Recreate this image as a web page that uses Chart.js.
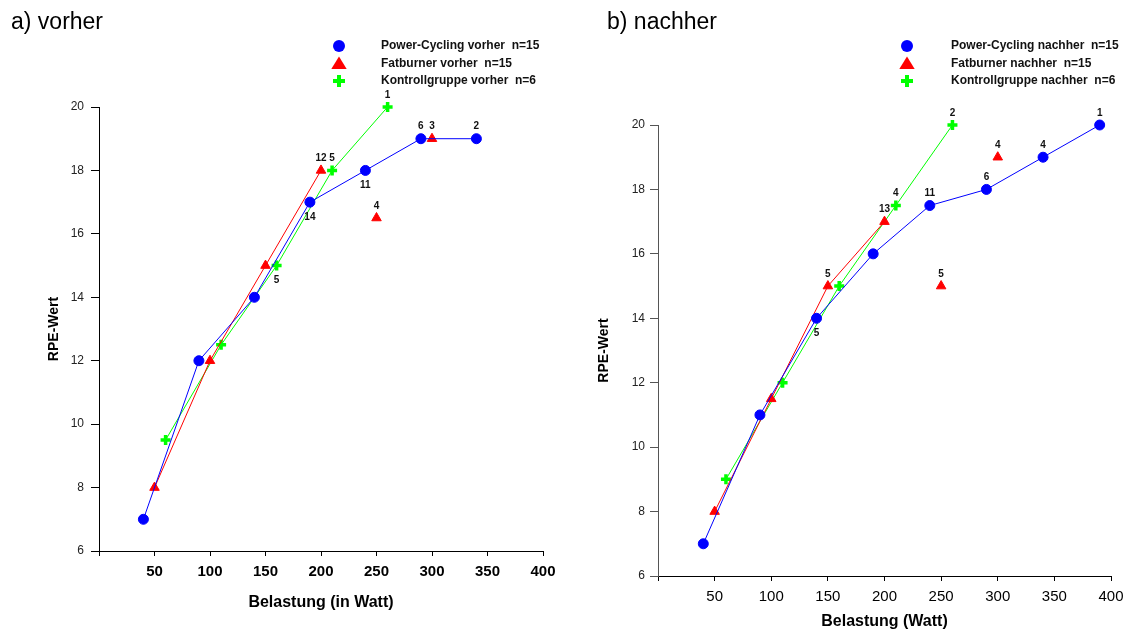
<!DOCTYPE html>
<html>
<head>
<meta charset="utf-8">
<title>RPE-Wert vorher / nachher</title>
<script src="https://cdn.jsdelivr.net/npm/chart.js"></script>
<style>
  html, body { margin: 0; padding: 0; background: #fff; }
  #wrap { position: relative; width: 1147px; height: 631px; }
  .box { position: absolute; top: 0; height: 631px; }
</style>
</head>
<body>
<div id="wrap">
  <div class="box" style="left:0;width:574px"><canvas id="vorher"></canvas></div>
  <div class="box" style="left:574px;width:573px"><canvas id="nachher"></canvas></div>
</div>
<script>
// ---- data: a) vorher ----
const pcVorherX = [40, 90, 140, 190, 240, 290, 340];
const pcVorherY = [7, 12, 14, 17, 18, 19, 19];
const pcVorherN = ['', '', '', '14', '11', '6', '2'];

const fbVorherX = [50, 100, 150, 200];
const fbVorherY = [8, 12, 15, 18];
const fbVorherN = ['', '', '', '12'];
const fbVorherSoloX = [250, 300];
const fbVorherSoloY = [16.5, 19];
const fbVorherSoloN = ['4', '3'];

const kgVorherX = [60, 110, 160, 210, 260];
const kgVorherY = [9.5, 12.5, 15, 18, 20];
const kgVorherN = ['', '', '5', '5', '1'];

// ---- data: b) nachher ----
const pcNachherX = [40, 90, 140, 190, 240, 290, 340, 390];
const pcNachherY = [7, 11, 14, 16, 17.5, 18, 19, 20];
const pcNachherN = ['', '', '5', '', '11', '6', '4', '1'];

const fbNachherX = [50, 100, 150, 200];
const fbNachherY = [8, 11.5, 15, 17];
const fbNachherN = ['', '', '5', '13'];
const fbNachherSoloX = [250, 300];
const fbNachherSoloY = [15, 19];
const fbNachherSoloN = ['5', '4'];

const kgNachherX = [60, 110, 160, 210, 260];
const kgNachherY = [9, 12, 15, 17.5, 20];
const kgNachherN = ['', '', '', '4', '2'];

// axes
const xMin = 0, xMax = 400, xStep = 50;
const yMin = 6, yMax = 20, yStep = 2;

const legendVorher = ['Power-Cycling vorher  n=15', 'Fatburner vorher  n=15', 'Kontrollgruppe vorher  n=6'];
const legendNachher = ['Power-Cycling nachher  n=15', 'Fatburner nachher  n=15', 'Kontrollgruppe nachher  n=6'];

const FONT = 'Arial, "Liberation Sans", sans-serif';
const BLUE = '#0000ff', RED = '#ff0000', GREEN = '#00ff00';

const pts = (xs, ys) => xs.map((x, i) => ({ x: x, y: ys[i] }));

function series(xs, ys, nums, color, style, extra) {
    return Object.assign({
        data: pts(xs, ys),
        numbers: nums,
        showLine: true,
        borderColor: color,
        backgroundColor: color,
        borderWidth: 1,
        pointStyle: style,
        pointRadius: style === 'triangle' ? 5.5 : 5,
        pointBorderWidth: style === 'cross' ? 3.5 : 1,
        pointHoverRadius: 5,
        clip: false
    }, extra || {});
}

function marker(ctx, style, color, x, y, r) {
    ctx.fillStyle = color;
    ctx.strokeStyle = color;
    ctx.beginPath();
    if (style === 'circle') {
        ctx.arc(x, y, r, 0, Math.PI * 2);
        ctx.fill();
    } else if (style === 'triangle') {
        ctx.moveTo(x, y - r);
        ctx.lineTo(x + r * 1.1, y + r * 0.8);
        ctx.lineTo(x - r * 1.1, y + r * 0.8);
        ctx.closePath();
        ctx.fill();
    } else {
        ctx.lineWidth = 4;
        ctx.moveTo(x - r, y); ctx.lineTo(x + r, y);
        ctx.moveTo(x, y - r); ctx.lineTo(x, y + r);
        ctx.stroke();
    }
}

// point numbers, panel title and legend
const overlay = {
    id: 'overlay',
    afterDatasetsDraw(chart, args, opts) {
        const ctx = chart.ctx;
        ctx.save();
        ctx.font = 'bold 10px ' + FONT;
        ctx.fillStyle = '#111';
        ctx.textAlign = 'center';
        ctx.textBaseline = 'middle';
        chart.data.datasets.forEach((ds, i) => {
            if (!ds.numbers) return;
            chart.getDatasetMeta(i).data.forEach((pt, j) => {
                const t = ds.numbers[j];
                if (!t) return;
                const below = ds.below && ds.below.includes(j);
                ctx.fillText(t, pt.x, pt.y + (below ? 15 : -12));
            });
        });

        ctx.textAlign = 'left';
        ctx.textBaseline = 'alphabetic';
        ctx.fillStyle = '#000';
        ctx.font = '23px ' + FONT;
        ctx.fillText(opts.title, opts.titleX, 29);

        const styles = ['circle', 'triangle', 'cross'];
        const colors = [BLUE, RED, GREEN];
        const rows = [46, 63.5, 81];
        opts.items.forEach((txt, k) => {
            marker(ctx, styles[k], colors[k], opts.markerX, rows[k], k === 1 ? 7 : 6);
            ctx.fillStyle = '#111';
            ctx.font = 'bold 12px ' + FONT;
            ctx.textBaseline = 'middle';
            ctx.fillText(txt, opts.textX, rows[k]);
        });
        ctx.restore();
    }
};

function makeChart(id, datasets, o) {
    new Chart(document.getElementById(id), {
        type: 'scatter',
        data: { datasets: datasets },
        options: {
            responsive: true,
            maintainAspectRatio: false,
            animation: false,
            events: [],
            layout: { padding: o.pad },
            plugins: {
                legend: { display: false },
                tooltip: { enabled: false },
                overlay: o.overlay
            },
            scales: {
                x: {
                    type: 'linear',
                    min: xMin, max: xMax,
                    afterFit: s => { s.height = o.xH; },
                    ticks: {
                        stepSize: xStep,
                        padding: 7,
                        color: '#000',
                        font: { family: FONT, size: 15, weight: o.xBold ? 'bold' : 'normal' },
                        callback: v => v === 0 ? '' : v
                    },
                    grid: { drawOnChartArea: false, drawTicks: true, tickLength: 5, color: '#000' },
                    border: { display: true, color: '#000', width: 1 },
                    title: {
                        display: true, text: o.xTitle, color: '#000',
                        padding: { top: 0, bottom: 0 },
                        font: { family: FONT, size: 16, weight: 'bold' }
                    }
                },
                y: {
                    min: yMin, max: yMax,
                    afterFit: s => { s.width = o.yW; },
                    ticks: {
                        stepSize: yStep,
                        padding: o.yPad,
                        color: '#222',
                        font: { family: FONT, size: 12 }
                    },
                    grid: { drawOnChartArea: false, drawTicks: true, tickLength: 8, color: o.yColor },
                    border: { display: true, color: o.yColor, width: 1 },
                    title: {
                        display: true, text: 'RPE-Wert', color: '#000',
                        padding: 4,
                        font: { family: FONT, size: 14, weight: 'bold' }
                    }
                }
            }
        },
        plugins: [overlay]
    });
}

makeChart('vorher', [
    series(pcVorherX, pcVorherY, pcVorherN, BLUE, 'circle', { below: [3, 4] }),
    series(fbVorherX, fbVorherY, fbVorherN, RED, 'triangle'),
    series(fbVorherSoloX, fbVorherSoloY, fbVorherSoloN, RED, 'triangle', { showLine: false }),
    series(kgVorherX, kgVorherY, kgVorherN, GREEN, 'cross', { below: [2] })
], {
    pad: { left: 42, right: 31, top: 107, bottom: 19 },
    xH: 61, yW: 57, yPad: 7, xBold: true, yColor: '#000',
    xTitle: 'Belastung (in Watt)',
    overlay: { title: 'a) vorher', titleX: 11, markerX: 339, textX: 381, items: legendVorher }
});

makeChart('nachher', [
    series(pcNachherX, pcNachherY, pcNachherN, BLUE, 'circle', { below: [2] }),
    series(fbNachherX, fbNachherY, fbNachherN, RED, 'triangle'),
    series(fbNachherSoloX, fbNachherSoloY, fbNachherSoloN, RED, 'triangle', { showLine: false }),
    series(kgNachherX, kgNachherY, kgNachherN, GREEN, 'cross')
], {
    pad: { left: 18, right: 36, top: 125, bottom: 0 },
    xH: 55, yW: 66, yPad: 5, xBold: false, yColor: '#555',
    xTitle: 'Belastung (Watt)',
    overlay: { title: 'b) nachher', titleX: 33, markerX: 333, textX: 377, items: legendNachher }
});
</script>
</body>
</html>
